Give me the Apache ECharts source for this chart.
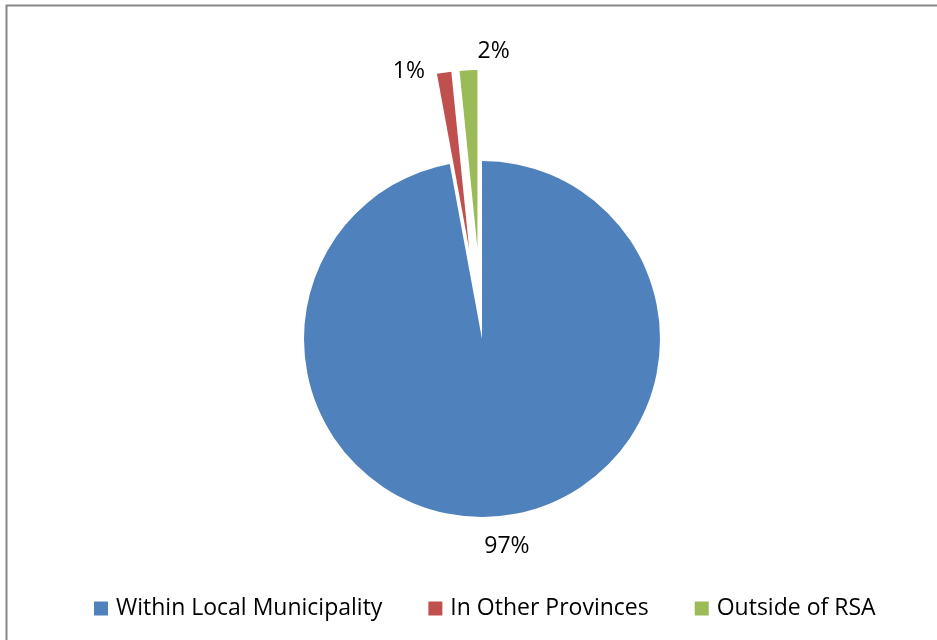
<!DOCTYPE html>
<html>
<head>
<meta charset="utf-8">
<script src="https://cdn.jsdelivr.net/npm/echarts@6/dist/echarts.min.js"></script>
<style>
  html, body { margin: 0; padding: 0; background: #fff; }
  #chart { width: 937px; height: 640px; }
</style>
</head>
<body>
<div id="chart"></div>
<script>
// data
const categories = ['Within Local Municipality', 'In Other Provinces', 'Outside of RSA']
const shares = [97.1, 1.3, 1.6]
const colors = ['#4F81BD', '#C0504D', '#9BBB59']
const exploded = [false, true, true]

// pie geometry
const cx = 482, cy = 339, R = 178, explode = 91
// label placement (hidden leader line lengths decide where text sits)
const labelLen = [30, 1, 19]
const labelLen2 = [0, 14, -15]
const labelAlign = ['center', 'right', 'left']
const labelNudge = [6, 0, 0]

const total = shares.reduce((a, b) => a + b, 0)
// mid angle of each slice, clockwise from 12 o'clock (radians)
const midAngles = []
let acc = 0
shares.forEach(v => {
  midAngles.push((acc + v / 2) / total * Math.PI * 2)
  acc += v
})

const chart = echarts.init(document.getElementById('chart'))

const pieData = categories.map((name, i) => ({
  name: name,
  value: shares[i],
  selected: exploded[i],
  itemStyle: { color: colors[i] },
  labelLine: { show: false, length: labelLen[i], length2: labelLen2[i] }
}))

const option = {
  animation: false,
  textStyle: { fontFamily: 'Open Sans' },
  graphic: [{
    type: 'rect',
    shape: { x: 6.5, y: 5.5, width: 960, height: 660 },
    style: { fill: 'none', stroke: '#868686', lineWidth: 2 },
    silent: true
  }],
  legend: {
    top: 592,
    left: 89,
    itemWidth: 14,
    itemHeight: 14,
    itemGap: 46,
    icon: 'rect',
    textStyle: { fontSize: 23, color: '#000', fontFamily: 'Open Sans', padding: [0, 0, 0, 3] },
    selectedMode: false
  },
  series: [{
    type: 'pie',
    center: [cx, cy],
    radius: R,
    startAngle: 90,
    clockwise: true,
    selectedMode: 'multiple',
    selectedOffset: explode,
    avoidLabelOverlap: false,
    label: {
      show: true,
      position: 'outside',
      formatter: p => Math.round(p.value) + '%',
      fontSize: 23,
      color: '#000'
    },
    labelLine: { show: false },
    labelLayout: p => {
      const i = p.dataIndex
      if (exploded[i]) return { align: labelAlign[i] }
      const a = midAngles[i]
      const r = R + labelLen[i]
      return {
        x: cx + r * Math.sin(a) + labelNudge[i],
        y: cy - r * Math.cos(a),
        align: labelAlign[i],
        verticalAlign: 'middle'
      }
    },
    emphasis: { disabled: true },
    data: pieData
  }]
}

chart.setOption(option)
</script>
</body>
</html>
